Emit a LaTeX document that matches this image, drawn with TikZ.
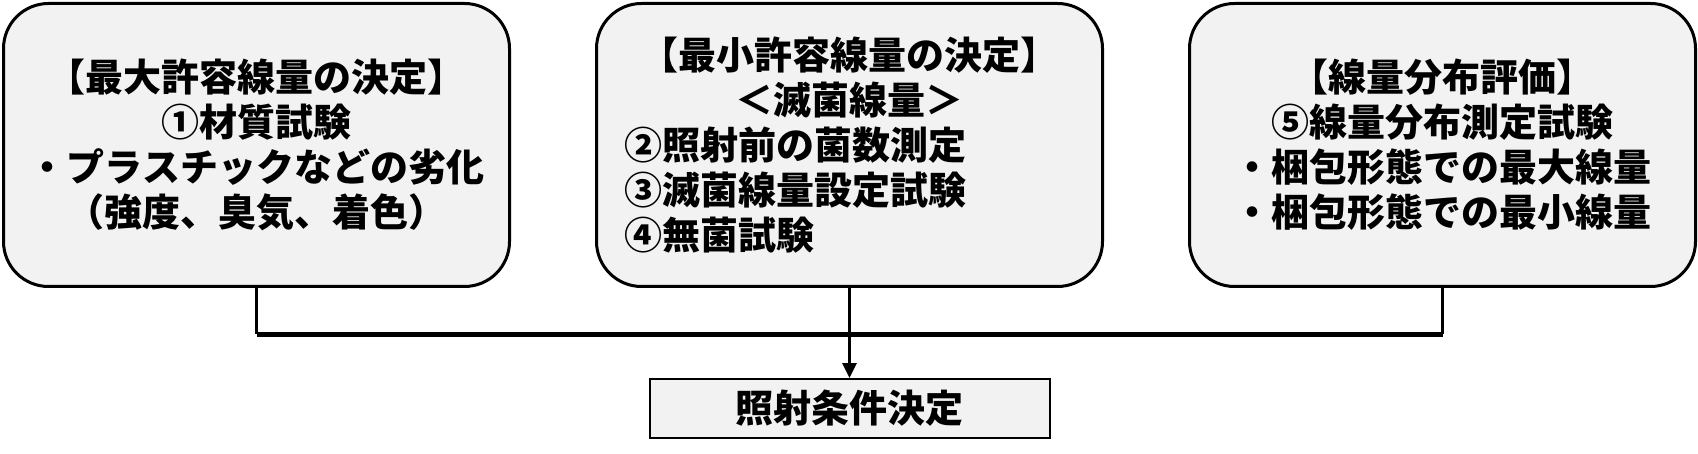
\documentclass[tikz,border=0pt]{standalone}
\usepackage{fontspec}
\setmainfont{Noto Sans CJK JP}
\usetikzlibrary{arrows.meta,
                positioning}
\definecolor{panelgray}{HTML}{F2F2F2}
\tikzset{panel/.style={draw, line width=3pt, fill=panelgray, rounded corners=45pt,
                       minimum width=506pt, minimum height=283pt, inner sep=0pt},
         outcome/.style={draw, line width=2pt, fill=panelgray,
                         minimum width=400pt, minimum height=59pt, inner sep=0pt},
         feed/.style={line width=3pt},
         busbar/.style={line width=5pt}}
\begin{document}
\begin{tikzpicture}[x=1pt, y=1pt, font=\fontsize{38}{45}\selectfont\bfseries]
 \useasboundingbox (0,0) rectangle (1698,453);
 \node[panel, align=center] (box1) at (256.5,308)
   {【最大許容線量の決定】\\①材質試験\\・プラスチックなどの劣化\\（強度、臭気、着色）};
 \node[panel, right=84pt of box1, text width=451pt, align=left] (box2)
   {\parindent=0pt{\centering 【最小許容線量の決定】\\＜滅菌線量＞\par}
    ②照射前の菌数測定\\③滅菌線量設定試験\\④無菌試験};
 \node[panel, right=84pt of box2, align=center] (box3)
   {【線量分布評価】\\⑤線量分布測定試験\\・梱包形態での最大線量\\・梱包形態での最小線量};
 \node[outcome, below=90pt of box2] (result) {照射条件決定};
 % gathering line
 \path (box2.south) ++(0,-46) coordinate (bus);
 \draw[feed] (box1.south) -- (box1.south |- bus);
 \draw[feed] (box3.south) -- (box3.south |- bus);
 \draw[busbar] (box1.south |- bus) -- (box3.south |- bus);
 \draw[feed, -{Triangle[length=15pt, width=14pt]}] (box2.south) -- (result.north);
\end{tikzpicture}
\end{document}
